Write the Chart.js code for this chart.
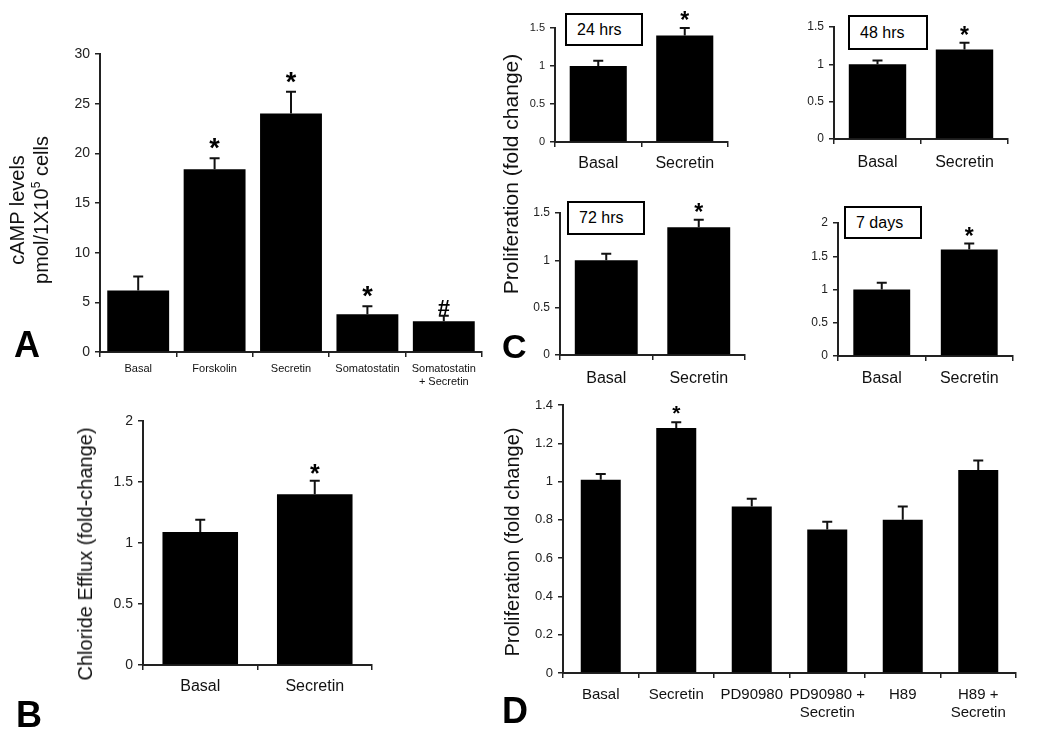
<!DOCTYPE html>
<html>
<head>
<meta charset="utf-8">
<script src="https://cdn.jsdelivr.net/npm/chart.js@4"></script>
<style>
  body { margin: 0; background: #fff; width: 1050px; height: 739px; position: relative; overflow: hidden;
         font-family: Arial, 'Liberation Sans', sans-serif; color: #000; }
  canvas { position: absolute; }
  .letter { position: absolute; font-weight: bold; font-size: 36px; line-height: 1; }
  .ytitle { position: absolute; transform: translate(-50%, -50%) rotate(-90deg); white-space: nowrap;
            font-size: 20px; line-height: 1.2; text-align: center; color: #111; }
  .ytitle sup { font-size: 12px; }
  .tbox { position: absolute; border: 2px solid #000; box-sizing: border-box; font-size: 16px;
          padding-left: 10px; display: flex; align-items: center; background: #fff; }
</style>
</head>
<body>

<canvas id="chartA"></canvas>
<canvas id="chartB"></canvas>
<canvas id="chartC24"></canvas>
<canvas id="chartC48"></canvas>
<canvas id="chartC72"></canvas>
<canvas id="chartC7d"></canvas>
<canvas id="chartD"></canvas>

<div class="ytitle" style="left:29px; top:210px;">cAMP levels<br>pmol/1X10<sup>5</sup> cells</div>
<div class="ytitle" style="left:85px; top:554px;">Chloride Efflux (fold-change)</div>
<div class="ytitle" style="left:511px; top:174px; font-size:21px;">Proliferation (fold change)</div>
<div class="ytitle" style="left:512px; top:542px;">Proliferation (fold change)</div>

<div class="letter" style="left:14px; top:327px;">A</div>
<div class="letter" style="left:16px; top:697px;">B</div>
<div class="letter" style="left:502px; top:329px; font-size:34px;">C</div>
<div class="letter" style="left:502px; top:693px;">D</div>

<div class="tbox" style="left:565px; top:13px; width:78px; height:33px;">24 hrs</div>
<div class="tbox" style="left:848px; top:15px; width:80px; height:35px;">48 hrs</div>
<div class="tbox" style="left:567px; top:201px; width:78px; height:34px;">72 hrs</div>
<div class="tbox" style="left:844px; top:206px; width:78px; height:33px;">7 days</div>

<script>
const FONT = "Arial, 'Liberation Sans', sans-serif";

// Panel A - cAMP levels
const aLabels = ['Basal', 'Forskolin', 'Secretin', 'Somatostatin', ['Somatostatin', '+ Secretin']];
const aValues = [6.2, 18.4, 24.0, 3.8, 3.1];
const aErrors = [1.4, 1.1, 2.2, 0.8, 0.55];
const aMarks = ['', '*', '*', '*', '#'];

// Panel B - chloride efflux
const bLabels = ['Basal', 'Secretin'];
const bValues = [1.09, 1.40];
const bErrors = [0.10, 0.11];
const bMarks = ['', '*'];

// Panel C - proliferation time course
const cLabels = ['Basal', 'Secretin'];
const c24Values = [1.0, 1.40];
const c24Errors = [0.07, 0.10];
const c48Values = [1.0, 1.20];
const c48Errors = [0.05, 0.09];
const c72Values = [1.0, 1.35];
const c72Errors = [0.07, 0.08];
const c7dValues = [1.0, 1.60];
const c7dErrors = [0.10, 0.09];
const cMarks = ['', '*'];

// Panel D - proliferation with inhibitors
const dLabels = ['Basal', 'Secretin', 'PD90980', ['PD90980 +', 'Secretin'], 'H89', ['H89 +', 'Secretin']];
const dValues = [1.01, 1.28, 0.87, 0.75, 0.80, 1.06];
const dErrors = [0.03, 0.03, 0.04, 0.04, 0.07, 0.05];
const dMarks = ['', '*', '', '', '', ''];

// error bars + significance marks on top of each bar
const errBars = {
  id: 'errbars',
  afterDatasetsDraw(chart, args, opts) {
    const meta = chart.getDatasetMeta(0);
    const y = chart.scales.y;
    const ctx = chart.ctx;
    const vals = chart.data.datasets[0].data;
    ctx.save();
    ctx.strokeStyle = '#111';
    ctx.fillStyle = '#000';
    ctx.lineWidth = 2;
    ctx.textAlign = 'center';
    ctx.textBaseline = 'alphabetic';
    meta.data.forEach((bar, i) => {
      const top = y.getPixelForValue(vals[i] + opts.errors[i]);
      ctx.beginPath();
      ctx.moveTo(bar.x, bar.y);
      ctx.lineTo(bar.x, top);
      ctx.moveTo(bar.x - opts.cap, top);
      ctx.lineTo(bar.x + opts.cap, top);
      ctx.stroke();
      const m = opts.marks[i];
      if (m) {
        // '#' is drawn a little smaller than the asterisks
        const size = m === '#' ? Math.round(opts.starSize * 0.8) : opts.starSize;
        ctx.font = 'bold ' + size + 'px ' + FONT;
        ctx.fillText(m, bar.x, top - opts.starGap);
      }
    });
    ctx.restore();
  }
};
Chart.register(errBars);

function barChart(id, box, labels, values, errors, marks, o) {
  const cv = document.getElementById(id);
  cv.style.left = box[0] + 'px';
  cv.style.top = box[1] + 'px';
  cv.width = box[2];
  cv.height = box[3];
  return new Chart(cv, {
    type: 'bar',
    data: {
      labels: labels,
      datasets: [{
        data: values,
        backgroundColor: '#000',
        borderWidth: 0,
        barPercentage: o.bar,
        categoryPercentage: 1
      }]
    },
    options: {
      responsive: false,
      animation: false,
      layout: { autoPadding: false, padding: { top: o.padTop, right: o.padRight, bottom: 0, left: 0 } },
      plugins: {
        legend: { display: false },
        tooltip: { enabled: false },
        errbars: { errors: errors, marks: marks, cap: o.cap, starSize: o.starSize, starGap: o.starGap }
      },
      scales: {
        x: {
          grid: { offset: true, drawOnChartArea: false, drawTicks: true, tickLength: 5, color: '#222', lineWidth: 1.5 },
          border: { color: '#222', width: 2 },
          ticks: { color: '#111', font: { family: FONT, size: o.xFont }, padding: o.xPad, maxRotation: 0, autoSkip: false },
          afterFit: s => { s.height = o.xH; }
        },
        y: {
          min: 0,
          max: o.max,
          grid: { drawOnChartArea: false, drawTicks: true, tickLength: 5, color: '#222', lineWidth: 1.5 },
          border: { color: '#222', width: 2 },
          ticks: {
            stepSize: o.step,
            color: '#222',
            font: { family: FONT, size: o.yFont },
            padding: 5,
            callback: v => String(Math.round(v * 100) / 100)
          },
          afterFit: s => { s.width = o.yW; }
        }
      }
    }
  });
}

barChart('chartA', [0, 40, 490, 360], aLabels, aValues, aErrors, aMarks,
  { max: 30, step: 5, yW: 100, xH: 48, padTop: 14, padRight: 8, bar: 0.81, cap: 5,
    xFont: 11, yFont: 14, xPad: 5, starSize: 27, starGap: 1 });

barChart('chartB', [40, 405, 340, 300], bLabels, bValues, bErrors, bMarks,
  { max: 2, step: 0.5, yW: 103, xH: 40, padTop: 16, padRight: 8, bar: 0.66, cap: 5,
    xFont: 16, yFont: 14, xPad: 7, starSize: 25, starGap: -1 });

barChart('chartC24', [520, 0, 215, 180], cLabels, c24Values, c24Errors, cMarks,
  { max: 1.5, step: 0.5, yW: 35, xH: 38, padTop: 28, padRight: 7, bar: 0.66, cap: 5,
    xFont: 16, yFont: 11, xPad: 7, starSize: 23, starGap: 0 });

barChart('chartC48', [800, 0, 215, 180], cLabels, c48Values, c48Errors, cMarks,
  { max: 1.5, step: 0.5, yW: 34, xH: 41, padTop: 27, padRight: 7, bar: 0.66, cap: 5,
    xFont: 16, yFont: 12, xPad: 9, starSize: 23, starGap: 0 });

barChart('chartC72', [520, 190, 235, 200], cLabels, c72Values, c72Errors, cMarks,
  { max: 1.5, step: 0.5, yW: 40, xH: 35, padTop: 23, padRight: 10, bar: 0.68, cap: 5,
    xFont: 16, yFont: 12, xPad: 9, starSize: 23, starGap: 0 });

barChart('chartC7d', [800, 190, 220, 200], cLabels, c7dValues, c7dErrors, cMarks,
  { max: 2, step: 0.5, yW: 38, xH: 34, padTop: 33, padRight: 7, bar: 0.65, cap: 5,
    xFont: 16, yFont: 12, xPad: 8, starSize: 23, starGap: 0 });

barChart('chartD', [520, 390, 510, 340], dLabels, dValues, dErrors, dMarks,
  { max: 1.4, step: 0.2, yW: 43, xH: 57, padTop: 15, padRight: 14, bar: 0.53, cap: 5,
    xFont: 15, yFont: 13, xPad: 8, starSize: 21, starGap: 2 });
</script>
</body>
</html>
